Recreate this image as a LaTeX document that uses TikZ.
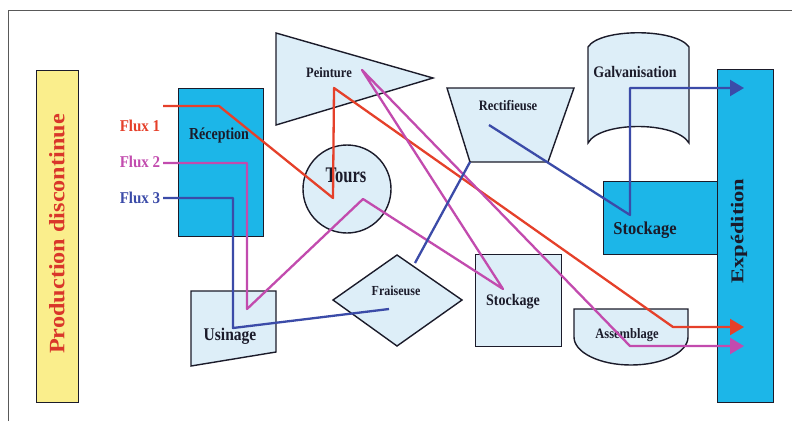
\documentclass[tikz,border=0pt]{standalone}
\usepackage{fontspec}
\usepackage{graphicx}
\setmainfont{Liberation Serif}
\usetikzlibrary{arrows.meta,shapes.geometric}
\definecolor{cyanfill}{HTML}{1CB6E8}
\definecolor{lightfill}{HTML}{DDEEF8}
\definecolor{yellowfill}{HTML}{FAEE8C}
\definecolor{redc}{HTML}{E5402A}
\definecolor{magc}{HTML}{C24BAE}
\definecolor{bluec}{HTML}{3B4BA8}
\definecolor{labelc}{HTML}{1B1B2A}
\definecolor{prodc}{HTML}{D9362A}
\newcommand{\tall}[2][1.15]{\scalebox{1}[#1]{#2}}
\newcommand{\longtxt}[2][1.1]{\scalebox{#1}[1]{#2}}
\begin{document}
\begin{tikzpicture}[x=1pt,y=-1pt,
  shapebox/.style={draw=labelc,line width=1.4pt},
  cyanbox/.style={shapebox,fill=cyanfill},
  lightbox/.style={shapebox,fill=lightfill},
  lbl/.style={text=labelc,font=\bfseries\fontsize{#1}{#1}\selectfont,inner sep=0pt},
  fluxlbl/.style={font=\bfseries\fontsize{15}{15}\selectfont,inner sep=0pt},
  flow/.style={line width=2.3pt,line join=round},
  tip/.style={-{Triangle[length=14pt,width=16pt]}}
]
\useasboundingbox (0,0) rectangle (792,421);
% outer frame
\draw[draw=black!65,line width=1pt] (8,421) -- (8,10) -- (792,10);

% Production discontinue bar
\node[draw=labelc,line width=1.4pt,fill=yellowfill,minimum width=42pt,minimum height=332pt,inner sep=0pt,anchor=north west] (prod) at (36,70) {};
\node[rotate=90,text=prodc,font=\bfseries\fontsize{22}{22}\selectfont,inner sep=0pt] (prodtxt) at (57,234) {\longtxt[1.1]{Production discontinue}};

% Expedition bar
\node[cyanbox,minimum width=56pt,minimum height=333pt,inner sep=0pt,anchor=north west] (exped) at (717,69) {};
% Stockage (top right)
\node[cyanbox,minimum width=114pt,minimum height=73pt,inner sep=0pt,anchor=north west] (stock1) at (603,181) {};
\node[rotate=90,lbl=18] (expedtxt) at (739,231) {\longtxt[1.25]{Expédition}};

% Reception
\node[cyanbox,minimum width=85pt,minimum height=148pt,inner sep=0pt,anchor=north west] (recep) at (178,88) {};

% Peinture triangle
\draw[lightbox] (276,33) coordinate (pA) -- (433,78) coordinate (pB) -- (276,125) coordinate (pC) -- cycle;

% Tours circle
\node[lightbox,circle,minimum size=88pt,inner sep=0pt] (tours) at (347,189) {};

% Rectifieuse trapezoid
\draw[lightbox] (447,88) coordinate (rA) -- (574,88) coordinate (rB) -- (548,162) coordinate (rC) -- (470,162) coordinate (rD) -- cycle;

% Galvanisation
\draw[lightbox] (588,143) -- (588,47) .. controls (600,28) and (676,28) .. (689,47) -- (689,143) .. controls (676,121) and (600,121) .. (588,143) -- cycle;

% Usinage
\draw[lightbox] (191,291) coordinate (uA) -- (276,291) coordinate (uB) -- (276,352) coordinate (uC) -- (191,366) coordinate (uD) -- cycle;

% Fraiseuse diamond
\draw[lightbox] (333,300) coordinate (fL) -- (397,255) coordinate (fT) -- (462,300) coordinate (fR) -- (397,346) coordinate (fB) -- cycle;

% Stockage (middle)
\node[lightbox,minimum width=86pt,minimum height=92pt,inner sep=0pt,anchor=north west] (stock2) at (475,254) {};

% Assemblage
\draw[lightbox] (574,337) -- (574,309) -- (688,309) -- (688,337) arc[start angle=0,end angle=-180,x radius=57pt,y radius=28pt] -- cycle;

% labels
\node[lbl=14] (recepT) at (219,135) {\tall[1.2]{Réception}};
\node[lbl=12.5] (peintT) at (329,73) {\tall{Peinture}};
\node[lbl=16.5] (toursT) at (346,175) {\tall[1.35]{Tours}};
\node[lbl=12.5] (rectT) at (508,106) {\tall{Rectifieuse}};
\node[lbl=14] (galvT) at (635,72) {\tall{Galvanisation}};
\node[lbl=16.5] (stock1T) at (645,230) {\tall[1.1]{Stockage}};
\node[lbl=14] (stock2T) at (513,302) {\tall{Stockage}};
\node[lbl=12] (fraisT) at (396,291) {\tall{Fraiseuse}};
\node[lbl=12.5] (assemT) at (627,335) {\tall{Assemblage}};
\node[lbl=15.5] (usinT) at (230,336) {\tall{Usinage}};

\node[fluxlbl,text=redc] (flux1) at (140,126) {\tall[1.1]{Flux 1}};
\node[fluxlbl,text=magc] (flux2) at (140,162) {\tall[1.1]{Flux 2}};
\node[fluxlbl,text=bluec] (flux3) at (140,198) {\tall[1.1]{Flux 3}};

% flow coordinates
\coordinate (f1a) at (163,106);
\coordinate (f1b) at (219,106);
\coordinate (f1c) at (333,198);
\coordinate (f1d) at (334,88);
\coordinate (f1e) at (673,327);
\coordinate (f1z) at (744,327);

\coordinate (f2a) at (163,163);
\coordinate (f2b) at (247,163);
\coordinate (f2c) at (247,309);
\coordinate (f2d) at (363,199);
\coordinate (f2e) at (503,289);
\coordinate (f2f) at (362,70);
\coordinate (f2g) at (630,346);
\coordinate (f2z) at (744,346);

\coordinate (f3a) at (163,198);
\coordinate (f3b) at (233,198);
\coordinate (f3c) at (233,328);
\coordinate (f3d) at (389,309);
\coordinate (f3e) at (415,263);
\coordinate (f3g) at (489,125);
\coordinate (f3h) at (630,215);
\coordinate (f3i) at (630,88);
\coordinate (f3z) at (744,88);

% flows
\draw[flow,draw=redc,tip] (f1a) -- (f1b) -- (f1c) -- (f1d) -- (f1e) -- (f1z);
\draw[flow,draw=magc,tip] (f2a) -- (f2b) -- (f2c) -- (f2d) -- (f2e) -- (f2f) -- (f2g) -- (f2z);
\draw[flow,draw=bluec] (f3a) -- (f3b) -- (f3c) -- (f3d);
\draw[flow,draw=bluec] (f3e) -- (rD);
\draw[flow,draw=bluec,tip] (f3g) -- (f3h) -- (f3i) -- (f3z);
\end{tikzpicture}
\end{document}
